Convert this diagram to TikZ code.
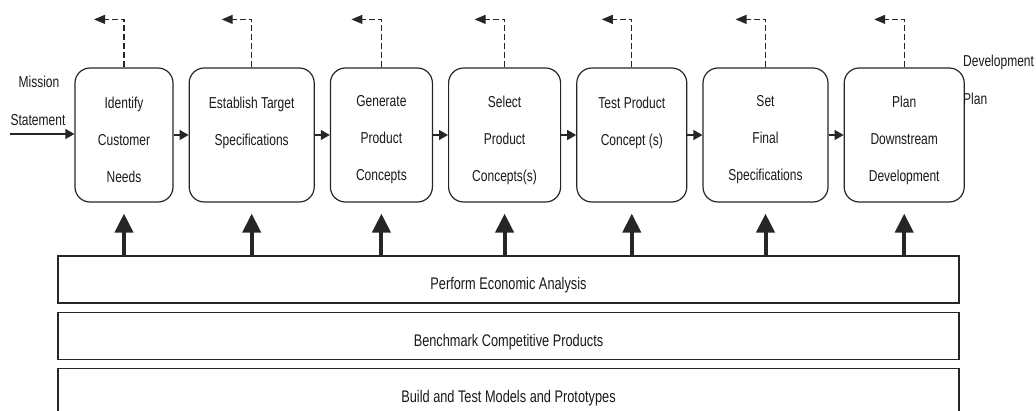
\documentclass[tikz, border = 0pt]{standalone}
\usepackage{fontspec}
\setmainfont{Liberation Sans}[FakeStretch = 0.76]
\usetikzlibrary{positioning, arrows.meta}

\begin{document}
\begin{tikzpicture}[font = \fontsize{15.8}{37}\selectfont, draw = black!85, text = black!90,
    stage/.style = {draw, rounded corners = 15pt, line width = 1.2pt, minimum height = 134pt, inner sep = 0pt},
    stagetext/.style = {align = center, yshift = -5pt},
    strip/.style = {draw, line width = 1.4pt, minimum width = 901pt, minimum height = 47pt, inner sep = 0pt},
    striptext/.style = {font = \fontsize{16.8}{18}\selectfont, yshift = -6pt},
    flow/.style = {line width = 1.2pt, -{Triangle[length = 9pt, width = 10pt]}},
    feedback/.style = {line width = 1.2pt, dash pattern = on 6pt off 3pt, -{Triangle[length = 11pt, width = 9pt]}},
    support/.style = {line width = 4pt, -{Triangle[length = 19pt, width = 18pt]}}]
  \useasboundingbox (0, 0) rectangle (1036pt, -411pt);

  % development stages
  \node (needs) [stage, minimum width = 98pt, label = {[stagetext]center:Identify\\Customer\\Needs}] at (124pt, -135pt) {};
  \node (specs) [stage, minimum width = 125pt, right = 15pt of needs, label = {[stagetext]center:Establish Target\\Specifications\\~}] {};
  \node (generate) [stage, minimum width = 102pt, right = 15pt of specs, label = {[stagetext]center:Generate\\Product\\Concepts}] {};
  \node (select) [stage, minimum width = 112pt, right = 15pt of generate, label = {[stagetext]center:Select\\Product\\Concepts(s)}] {};
  \node (test) [stage, minimum width = 110pt, right = 15pt of select, label = {[stagetext]center:Test Product\\Concept (s)\\~}] {};
  \node (final) [stage, minimum width = 125pt, right = 15pt of test, label = {[stagetext]center:Set\\Final\\Specifications}] {};
  \node (plan) [stage, minimum width = 120pt, right = 15pt of final, label = {[stagetext]center:Plan\\Downstream\\Development}] {};

  % input and output
  \node (mission) at (39pt, -82pt) {Mission};
  \node (statement) at (38pt, -120pt) {Statement};
  \coordinate (start) at (10pt, -134pt);
  \node (devplan) [anchor = west, inner sep = 0pt] at (963pt, -62pt) {Development};
  \node (devplan2) [anchor = west, inner sep = 0pt] at (963pt, -99pt) {Plan};

  % supporting activities
  \node (economic) [strip] at (508.5pt, -279.5pt) {};
  \node (benchmark) [strip, below = 8pt of economic] {};
  \node (prototype) [strip, below = 8pt of benchmark] {};
  \node (economic label) [striptext] at (economic) {Perform Economic Analysis};
  \node (benchmark label) [striptext] at (benchmark) {Benchmark Competitive Products};
  \node (prototype label) [striptext] at (prototype) {Build and Test Models and Prototypes};

  \draw [flow] (start) -- (start -| needs.west);
  \draw [flow] (needs) -- (specs);
  \draw [flow] (specs) -- (generate);
  \draw [flow] (generate) -- (select);
  \draw [flow] (select) -- (test);
  \draw [flow] (test) -- (final);
  \draw [flow] (final) -- (plan);

  \foreach \s in {needs, specs, generate, select, test, final, plan} {
    \draw [feedback] (\s.north) -- ++(0, 48pt) -- ++(-30pt, 0);
    \draw [support] (\s |- economic.north) -- ([yshift = -11pt] \s.south);
  }
\end{tikzpicture}
\end{document}
